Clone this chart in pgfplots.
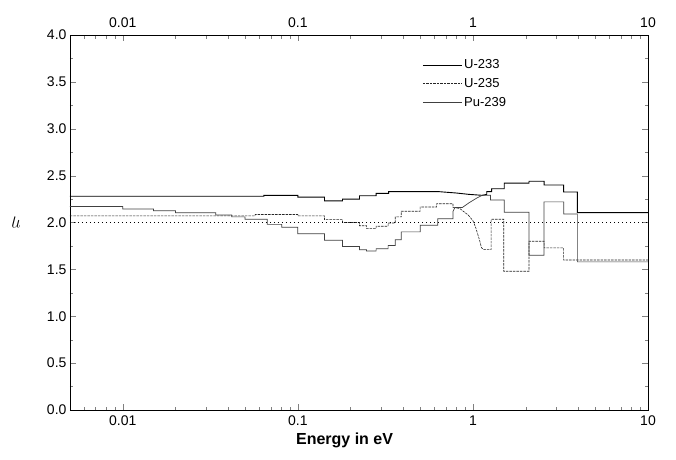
\documentclass[border=0pt]{standalone}
\usepackage{pgfplots}
\pgfplotsset{compat=1.18}
\usepackage{fontspec}
\setmainfont{Liberation Sans}

\begin{document}
\begin{tikzpicture}
% top tick labels only
\begin{axis}[
  at={(0pt,0pt)}, anchor=south west,
  scale only axis, width=578pt, height=375pt,
  xmode=log, xmin=0.005, xmax=10, ymin=0, ymax=4,
  axis x line*=top, hide y axis,
  xtick={0.01,0.1,1,10}, xticklabels={0.01,0.1,1,10},
  xtick style={draw=none}, minor xtick={},
  axis line style={draw=none},
  xticklabel style={font=\fontsize{14}{14}\selectfont, yshift=4pt},
]
\end{axis}

\begin{axis}[
  at={(0pt,0pt)}, anchor=south west,
  scale only axis, width=578pt, height=375pt,
  xmode=log, xmin=0.005, xmax=10, ymin=0, ymax=4,
  xtick={0.01,0.1,1,10}, xticklabels={0.01,0.1,1,10},
  ytick={0,0.5,1,1.5,2,2.5,3,3.5,4},
  minor y tick num=1,
  minor xtick={0.006,0.007,0.008,0.009,0.02,0.03,0.04,0.05,0.06,0.07,0.08,0.09,
               0.2,0.3,0.4,0.5,0.6,0.7,0.8,0.9,2,3,4,5,6,7,8,9},
  major tick length=6pt, minor tick length=3.5pt,
  tick label style={font=\fontsize{14}{14}\selectfont},
  yticklabel style={/pgf/number format/.cd,fixed,fixed zerofill,precision=1,assume math mode=true},
  xticklabel style={yshift=-2pt},
  axis line style={line width=0.8pt},
  xlabel={\textbf{Energy in eV}},
  xlabel style={font=\fontsize{16}{16}\selectfont, at={(axis description cs:0.475,-0.082)}, anchor=center},
  ylabel={$\eta$},
  ylabel style={font=\fontsize{16}{16}\selectfont, at={(axis description cs:-0.093,0.5)}, anchor=center, rotate=90},
  legend style={at={(axis description cs:0.604,0.945)}, anchor=north west,
    draw=none, fill=none, font=\fontsize{13}{13}\selectfont, row sep=4pt},
  legend cell align=left,
  legend image code/.code={\draw[#1] (0pt,0pt) -- (39pt,0pt);},
]
% U-233
\addplot[black, line width=0.9pt] coordinates {
(0.005,2.28) (0.064,2.28) (0.064,2.29) (0.1,2.29) (0.1,2.27) (0.142,2.27)
(0.142,2.23) (0.18,2.23) (0.18,2.25) (0.225,2.25) (0.225,2.285) (0.28,2.285)
(0.28,2.31) (0.33,2.31) (0.33,2.33) (0.63,2.33) (0.8,2.315) (0.95,2.30)
(1.13,2.29) (1.2,2.30) (1.2,2.33) (1.28,2.33) (1.28,2.36) (1.51,2.36)
(1.51,2.42) (2.09,2.42) (2.09,2.44) (2.55,2.44) (2.55,2.40) (3.3,2.40)
(3.3,2.325) (3.95,2.325) (3.95,2.105) (10,2.105)
};
\addlegendentry{U-233}
% U-235
\addplot[black!85, line width=0.6pt, dash pattern=on 2.5pt off 1pt] coordinates {
(0.005,2.07) (0.057,2.07) (0.057,2.085) (0.1,2.085) (0.1,2.07) (0.142,2.07)
(0.142,2.03) (0.18,2.03) (0.18,2.0) (0.225,2.0) (0.225,1.965) (0.247,1.965)
(0.247,1.935) (0.28,1.935) (0.28,1.96) (0.328,1.96) (0.328,1.995) (0.36,1.995)
(0.36,2.06) (0.39,2.06) (0.39,2.12) (0.5,2.12) (0.5,2.165) (0.62,2.165)
(0.62,2.20) (0.77,2.20) (0.77,2.16) (0.84,2.15) (0.94,2.08) (1.0,2.02)
(1.04,1.94) (1.09,1.815) (1.12,1.73) (1.16,1.71) (1.27,1.71) (1.27,2.035)
(1.50,2.035) (1.50,1.48) (2.09,1.48) (2.09,1.80) (2.55,1.80) (2.55,1.73)
(3.3,1.73) (3.3,1.60) (10,1.60)
};
\addlegendentry{U-235}
% Pu-239
\addplot[black!75, line width=0.7pt] coordinates {
(0.005,2.17) (0.01,2.17) (0.01,2.145) (0.015,2.145) (0.015,2.125) (0.02,2.125)
(0.02,2.105) (0.034,2.105) (0.034,2.08) (0.042,2.08) (0.042,2.06) (0.05,2.06)
(0.05,2.035) (0.067,2.035) (0.067,1.98) (0.081,1.98) (0.081,1.95) (0.1,1.95)
(0.1,1.88) (0.142,1.88) (0.142,1.81) (0.18,1.81) (0.18,1.745) (0.225,1.745)
(0.225,1.71) (0.247,1.71) (0.247,1.695) (0.28,1.695) (0.28,1.72) (0.328,1.72)
(0.328,1.755) (0.36,1.755) (0.36,1.815) (0.39,1.815) (0.39,1.90) (0.5,1.90)
(0.5,1.97) (0.63,1.97) (0.63,2.04) (0.77,2.04) (0.77,2.12) (0.79,2.16)
(0.87,2.16) (0.95,2.21) (1.05,2.26) (1.13,2.29) (1.26,2.29) (1.26,2.24)
(1.51,2.24) (1.51,2.11) (2.09,2.11) (2.09,1.65) (2.55,1.65) (2.55,2.22)
(3.3,2.22) (3.3,2.09) (3.95,2.09) (3.95,1.58) (10,1.58)
};
\addlegendentry{Pu-239}
% reference line at 2.0
\addplot[black, line width=0.6pt, dash pattern=on 1pt off 3pt, forget plot] coordinates {
(0.005,2.0) (10,2.0)
};
\end{axis}
\path (-70pt,-49pt) rectangle (606pt,410pt);
\end{tikzpicture}
\end{document}
